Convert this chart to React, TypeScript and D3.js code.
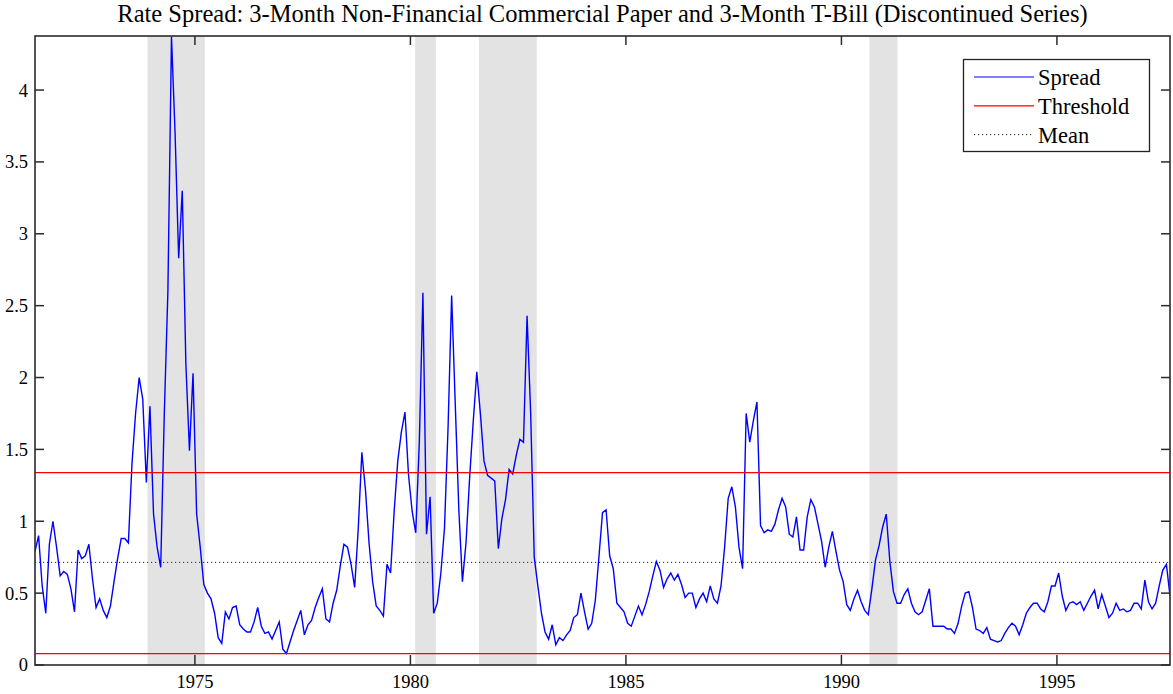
import * as d3 from "d3";

// monthly spread, Apr 1971 .. Aug 1997
const spread = [
  0.79, 0.9, 0.55, 0.36, 0.84, 1.0, 0.82, 0.62, 0.65, 0.63, 0.53, 0.37, 0.8, 0.74, 0.76, 0.84,
  0.6, 0.4, 0.46, 0.38, 0.33, 0.41, 0.58, 0.74, 0.88, 0.88, 0.85, 1.4, 1.75, 2.0, 1.85, 1.27,
  1.8, 1.05, 0.82, 0.68, 1.75, 2.6, 4.37, 3.7, 2.83, 3.3, 2.1, 1.49, 2.03, 1.05, 0.82, 0.56,
  0.5, 0.46, 0.36, 0.19, 0.15, 0.37, 0.32, 0.4, 0.41, 0.28, 0.25, 0.23, 0.23, 0.3, 0.4, 0.27,
  0.22, 0.23, 0.18, 0.24, 0.3, 0.11, 0.08, 0.16, 0.24, 0.31, 0.38, 0.21, 0.28, 0.31, 0.4, 0.47,
  0.53, 0.32, 0.3, 0.43, 0.52, 0.69, 0.84, 0.82, 0.7, 0.54, 0.95, 1.48, 1.22, 0.85, 0.58, 0.41,
  0.38, 0.34, 0.7, 0.64, 1.07, 1.42, 1.62, 1.76, 1.32, 1.07, 0.92, 1.55, 2.59, 0.91, 1.17, 0.36,
  0.43, 0.64, 0.95, 1.65, 2.57, 1.82, 1.08, 0.58, 0.85, 1.3, 1.69, 2.04, 1.75, 1.42, 1.32, 1.3,
  1.28, 0.81, 1.02, 1.15, 1.36, 1.33, 1.46, 1.57, 1.55, 2.43, 1.75, 0.75, 0.55, 0.36, 0.23, 0.18,
  0.28, 0.14, 0.19, 0.17, 0.21, 0.24, 0.33, 0.35, 0.5, 0.37, 0.25, 0.29, 0.45, 0.75, 1.06, 1.08,
  0.76, 0.67, 0.43, 0.4, 0.37, 0.29, 0.27, 0.34, 0.41, 0.35, 0.42, 0.51, 0.62, 0.72, 0.66, 0.54,
  0.6, 0.64, 0.59, 0.63, 0.56, 0.47, 0.5, 0.5, 0.4, 0.46, 0.5, 0.44, 0.55, 0.46, 0.43, 0.55,
  0.82, 1.16, 1.24, 1.1, 0.82, 0.67, 1.75, 1.55, 1.7, 1.83, 0.97, 0.92, 0.94, 0.93, 0.98, 1.08,
  1.16, 1.1, 0.91, 0.89, 1.03, 0.8, 0.8, 1.03, 1.15, 1.1, 0.98, 0.86, 0.68, 0.82, 0.93, 0.79,
  0.66, 0.58, 0.42, 0.38, 0.46, 0.52, 0.44, 0.38, 0.35, 0.53, 0.73, 0.83, 0.96, 1.05, 0.72, 0.51,
  0.43, 0.43, 0.49, 0.53, 0.43, 0.37, 0.35, 0.37, 0.45, 0.53, 0.27, 0.27, 0.27, 0.27, 0.25, 0.25,
  0.22, 0.29, 0.41, 0.5, 0.51, 0.4, 0.25, 0.24, 0.22, 0.26, 0.18, 0.17, 0.16, 0.17, 0.22, 0.26,
  0.29, 0.27, 0.21, 0.28, 0.36, 0.4, 0.43, 0.43, 0.39, 0.37, 0.44, 0.55, 0.55, 0.64, 0.48, 0.38,
  0.43, 0.44, 0.42, 0.44, 0.38, 0.43, 0.48, 0.52, 0.39, 0.49, 0.41, 0.33, 0.36, 0.43, 0.38, 0.39,
  0.37, 0.38, 0.43, 0.43, 0.39, 0.59, 0.44, 0.39, 0.43, 0.55, 0.66, 0.7, 0.48,
];
const firstMonth = 1971.29;

const recessionStart = [1973.9, 1980.11, 1981.59, 1990.65];
const recessionEnd = [1975.23, 1980.59, 1982.93, 1991.3];

const thresholdLow = 0.079;
const thresholdHigh = 1.338;
const meanValue = 0.714;

const yTicks = [0, 0.5, 1, 1.5, 2, 2.5, 3, 3.5, 4];
const xTicks = [1975, 1980, 1985, 1990, 1995];
const legendLabels = ["Spread", "Threshold", "Mean"];

const title =
  "Rate Spread: 3-Month Non-Financial Commercial Paper and 3-Month T-Bill (Discontinued Series)";

const W = 1173;
const H = 694;
const left = 35, right = 1170, top = 36, bottom = 665;
const font = "'Liberation Serif', 'Times New Roman', serif";
const axisColor = "#2b2b2b";

export default function App() {
  const lastMonth = firstMonth + (spread.length - 1) / 12;
  const x = d3.scaleLinear([firstMonth, lastMonth], [left, right]);
  const y = d3.scaleLinear([0, 4.376], [bottom, top]);

  const line = d3
    .line<number>()
    .x((_, i) => x(firstMonth + i / 12))
    .y((d) => y(d));

  const tickLen = 9;

  return (
    <div style={{ position: "absolute", left: 0, top: 0 }}>
      <svg width={W} height={H} style={{ display: "block", background: "#fff" }}>
        <defs>
          <clipPath id="plot">
            <rect x={left} y={top} width={right - left} height={bottom - top} />
          </clipPath>
        </defs>

        <text x={(left + right) / 2} y={22} textAnchor="middle" fontFamily={font} fontSize={24.5}>
          {title}
        </text>

        {/* recession bands */}
        {recessionStart.map((s, i) => (
          <rect
            key={i}
            x={x(s)}
            y={top}
            width={x(recessionEnd[i]) - x(s)}
            height={bottom - top}
            fill="#e3e3e3"
          />
        ))}

        <g clipPath="url(#plot)">
          <path d={line(spread) ?? ""} fill="none" stroke="#0000ff" strokeWidth={1.4} />
          <line x1={left} x2={right} y1={y(thresholdHigh)} y2={y(thresholdHigh)} stroke="#ff0000" strokeWidth={1.2} />
          <line x1={left} x2={right} y1={y(thresholdLow)} y2={y(thresholdLow)} stroke="#ff0000" strokeWidth={1.2} />
          <line
            x1={left}
            x2={right}
            y1={y(meanValue)}
            y2={y(meanValue)}
            stroke="#222"
            strokeWidth={1}
            strokeDasharray="1.2,2.8"
          />
        </g>

        {/* axes box and inward ticks */}
        <rect x={left} y={top} width={right - left} height={bottom - top} fill="none" stroke={axisColor} strokeWidth={1.6} />
        {yTicks.map((t) => (
          <g key={"y" + t}>
            <line x1={left} x2={left + tickLen} y1={y(t)} y2={y(t)} stroke={axisColor} strokeWidth={1.5} />
            <line x1={right} x2={right - tickLen} y1={y(t)} y2={y(t)} stroke={axisColor} strokeWidth={1.5} />
            <text x={left - 7} y={y(t)} dy="0.35em" textAnchor="end" fontFamily={font} fontSize={18.5}>
              {t}
            </text>
          </g>
        ))}
        {xTicks.map((t) => (
          <g key={"x" + t}>
            <line x1={x(t)} x2={x(t)} y1={bottom} y2={bottom - tickLen - 1} stroke={axisColor} strokeWidth={1.5} />
            <line x1={x(t)} x2={x(t)} y1={top} y2={top + tickLen} stroke={axisColor} strokeWidth={1.5} />
            <text x={x(t)} y={688} textAnchor="middle" fontFamily={font} fontSize={18.5}>
              {t}
            </text>
          </g>
        ))}

        {/* legend */}
        <g>
          <rect x={963.5} y={59.5} width={186} height={92} fill="#fff" stroke="#222" strokeWidth={1.3} />
          {legendLabels.map((lab, i) => {
            const ly = 77 + i * 28.8;
            return (
              <g key={lab}>
                <line
                  x1={974}
                  x2={1034}
                  y1={ly}
                  y2={ly}
                  stroke={i === 0 ? "#0000ff" : i === 1 ? "#ff0000" : "#222"}
                  strokeWidth={i === 2 ? 1 : 1.2}
                  strokeDasharray={i === 2 ? "1.2,2.8" : undefined}
                />
                <text x={1038} y={ly + 8} fontFamily={font} fontSize={22.5}>
                  {lab}
                </text>
              </g>
            );
          })}
        </g>
      </svg>
    </div>
  );
}
